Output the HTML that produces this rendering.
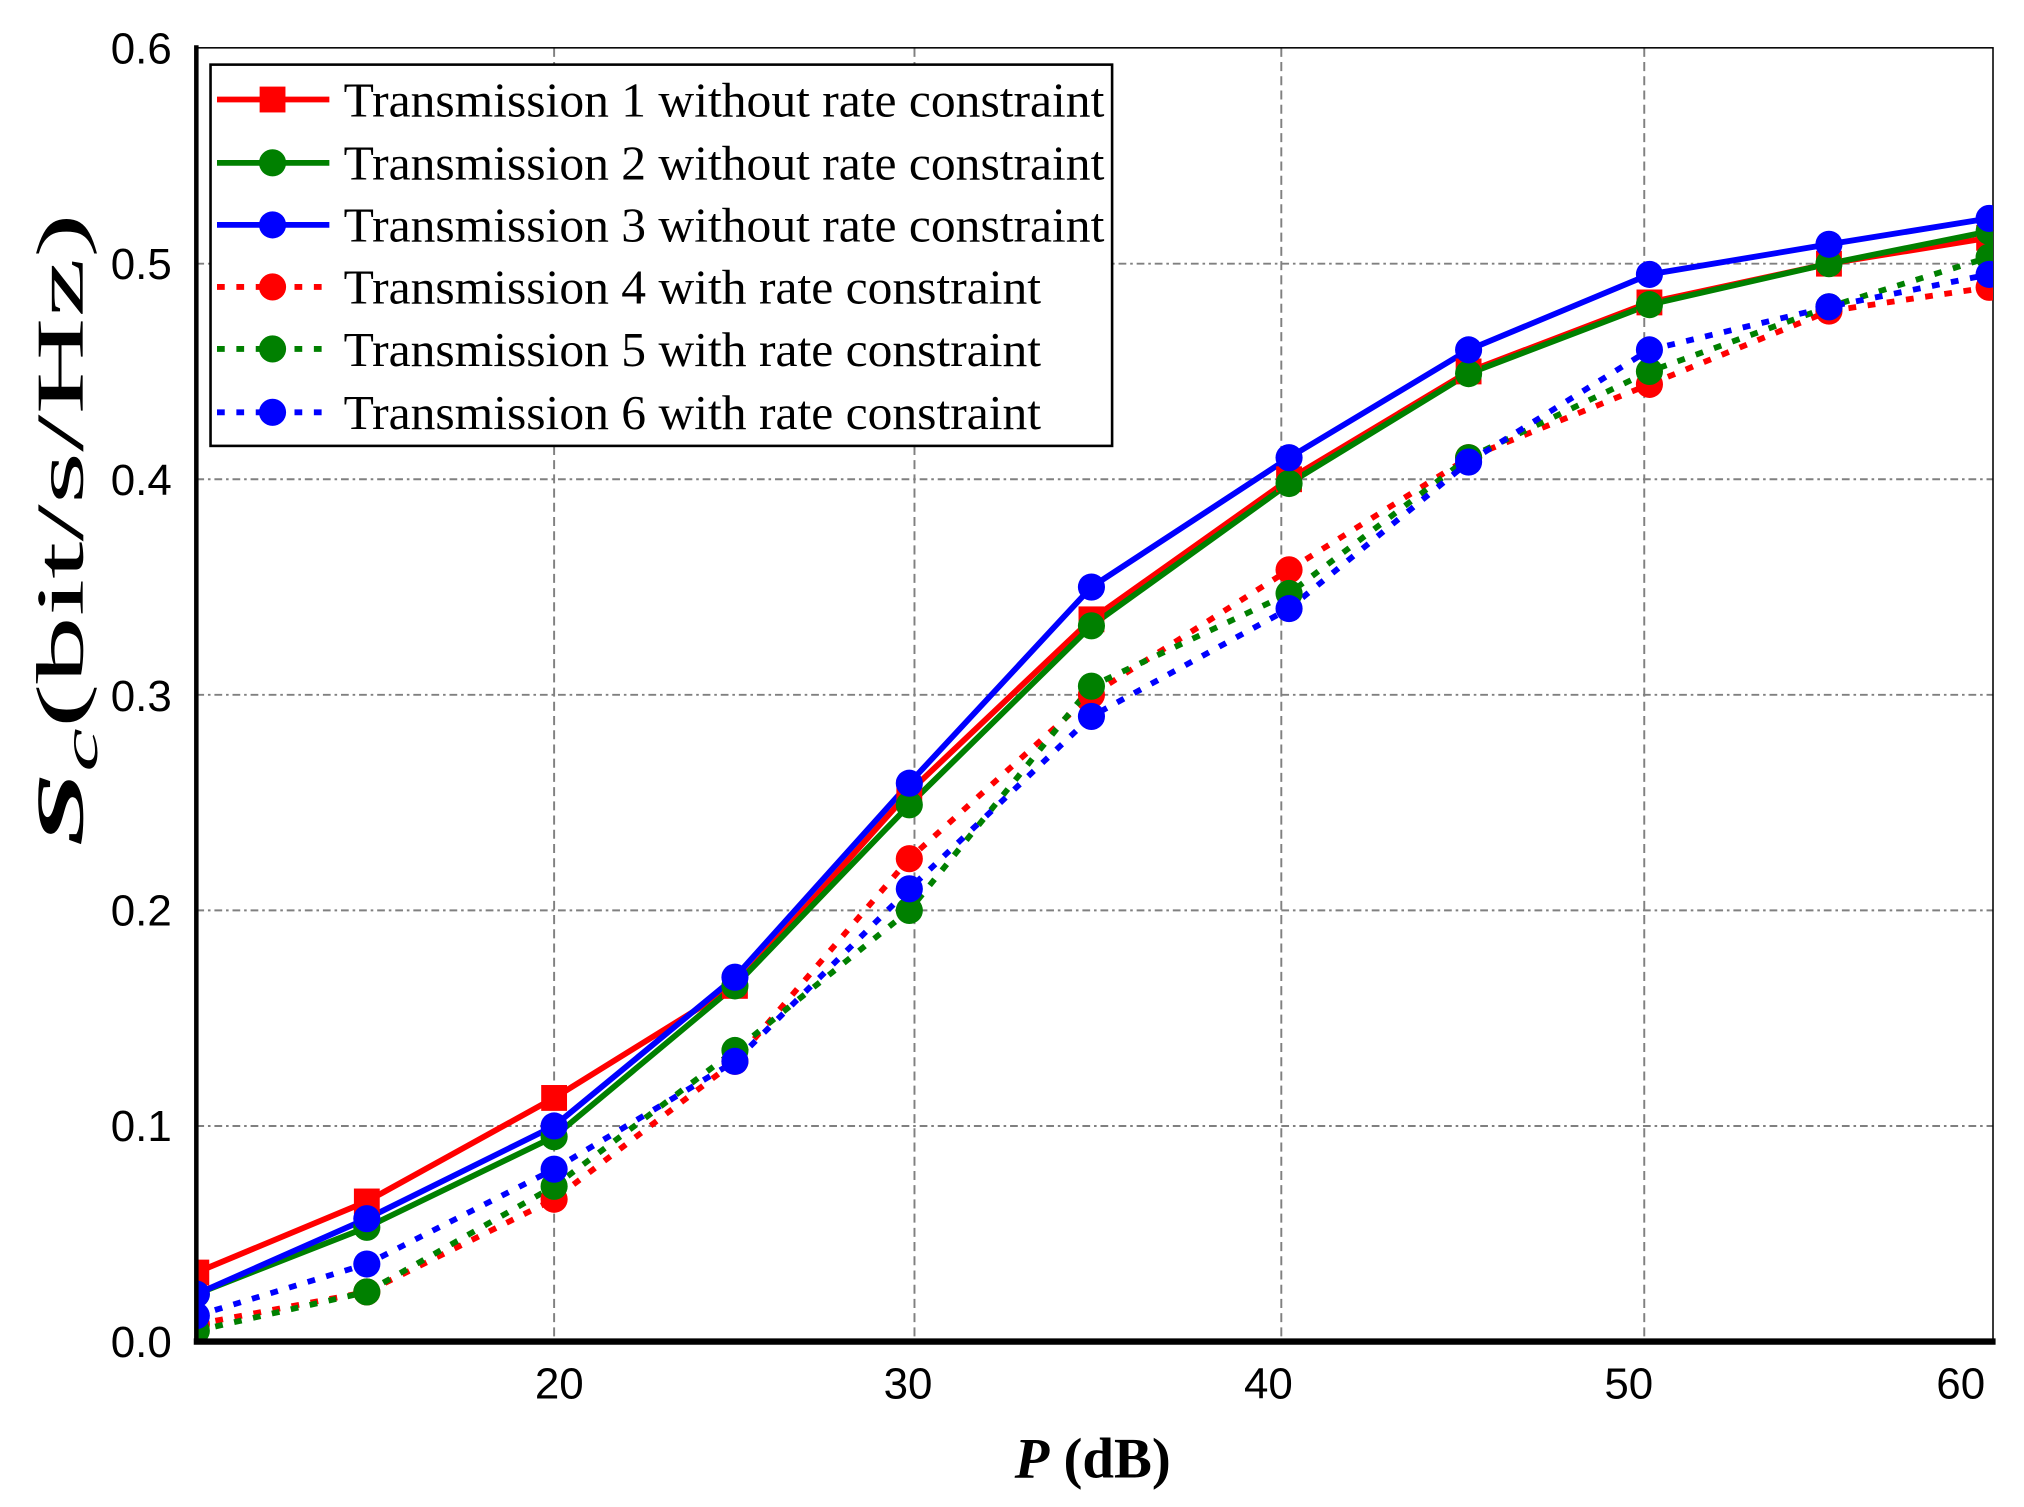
<!DOCTYPE html>
<html><head><meta charset="utf-8"><style>html,body{margin:0;padding:0;background:#fff}svg{display:block}</style></head>
<body>
<svg width="2024" height="1507" viewBox="0 0 1567 1166" preserveAspectRatio="none" xmlns="http://www.w3.org/2000/svg">
<defs><clipPath id="c"><rect x="152" y="37" width="1391" height="1001"/></clipPath></defs>
<rect width="1567" height="1166" fill="#fff"/>
<g stroke="#808080" stroke-width="1.5" stroke-dasharray="6,3,2,3" fill="none">
<line x1="152" y1="871.2" x2="1543" y2="871.2"/>
<line x1="152" y1="704.4" x2="1543" y2="704.4"/>
<line x1="152" y1="537.6" x2="1543" y2="537.6"/>
<line x1="152" y1="370.8" x2="1543" y2="370.8"/>
<line x1="152" y1="204" x2="1543" y2="204"/>
</g>
<g stroke="#808080" stroke-width="1.5" stroke-dasharray="7,4" fill="none">
<line x1="429" y1="37" x2="429" y2="1038"/>
<line x1="708" y1="37" x2="708" y2="1038"/>
<line x1="992" y1="37" x2="992" y2="1038"/>
<line x1="1273" y1="37" x2="1273" y2="1038"/>
</g>
<rect x="152" y="37" width="1391" height="1001" fill="none" stroke="#000" stroke-width="1.2"/>
<g clip-path="url(#c)" fill="none" stroke-width="4.5">
<polyline stroke="#ff0000" points="152,984.6 284,929.6 429,849.5 569,762.8 704,612.7 845,479.2 998,370.8 1137,287.4 1277,234 1416,204 1540,184"/>
<polyline stroke="#008000" points="152,1001.3 284,949.6 429,879.5 569,762.8 704,622.7 845,484.2 998,374.1 1137,289.1 1277,235.7 1416,204 1540,179"/>
<polyline stroke="#0000ff" points="152,1001.3 284,942.9 429,871.2 569,756.1 704,606 845,454.2 998,354.1 1137,270.7 1277,212.3 1416,189 1540,169"/>
<polyline stroke="#ff0000" stroke-dasharray="6,9" points="152,1024.7 284,999.6 429,927.9 569,821.2 704,664.4 845,537.6 998,440.9 1137,354.1 1277,297.4 1416,240.7 1540,222.3"/>
<polyline stroke="#008000" stroke-dasharray="6,9" points="152,1029.7 284,999.6 429,917.9 569,812.8 704,704.4 845,530.9 998,459.2 1137,354.1 1277,287.4 1416,237.4 1540,199"/>
<polyline stroke="#0000ff" stroke-dasharray="6,9" points="152,1018 284,978 429,904.6 569,821.2 704,687.7 845,554.3 998,470.9 1137,357.5 1277,270.7 1416,237.4 1540,212.3"/>
<g fill="#ff0000" stroke="none">
<rect x="142" y="974.6" width="20" height="20"/><rect x="274" y="919.6" width="20" height="20"/><rect x="419" y="839.5" width="20" height="20"/><rect x="559" y="752.8" width="20" height="20"/><rect x="694" y="602.7" width="20" height="20"/><rect x="835" y="469.2" width="20" height="20"/><rect x="988" y="360.8" width="20" height="20"/><rect x="1127" y="277.4" width="20" height="20"/><rect x="1267" y="224" width="20" height="20"/><rect x="1406" y="194" width="20" height="20"/><rect x="1530" y="174" width="20" height="20"/>
</g>
<g fill="#008000" stroke="none">
<circle cx="152" cy="1001.3" r="10.5"/><circle cx="284" cy="949.6" r="10.5"/><circle cx="429" cy="879.5" r="10.5"/><circle cx="569" cy="762.8" r="10.5"/><circle cx="704" cy="622.7" r="10.5"/><circle cx="845" cy="484.2" r="10.5"/><circle cx="998" cy="374.1" r="10.5"/><circle cx="1137" cy="289.1" r="10.5"/><circle cx="1277" cy="235.7" r="10.5"/><circle cx="1416" cy="204" r="10.5"/><circle cx="1540" cy="179" r="10.5"/>
</g>
<g fill="#0000ff" stroke="none">
<circle cx="152" cy="1001.3" r="10.5"/><circle cx="284" cy="942.9" r="10.5"/><circle cx="429" cy="871.2" r="10.5"/><circle cx="569" cy="756.1" r="10.5"/><circle cx="704" cy="606" r="10.5"/><circle cx="845" cy="454.2" r="10.5"/><circle cx="998" cy="354.1" r="10.5"/><circle cx="1137" cy="270.7" r="10.5"/><circle cx="1277" cy="212.3" r="10.5"/><circle cx="1416" cy="189" r="10.5"/><circle cx="1540" cy="169" r="10.5"/>
</g>
<g fill="#ff0000" stroke="none">
<circle cx="152" cy="1024.7" r="10.5"/><circle cx="284" cy="999.6" r="10.5"/><circle cx="429" cy="927.9" r="10.5"/><circle cx="569" cy="821.2" r="10.5"/><circle cx="704" cy="664.4" r="10.5"/><circle cx="845" cy="537.6" r="10.5"/><circle cx="998" cy="440.9" r="10.5"/><circle cx="1137" cy="354.1" r="10.5"/><circle cx="1277" cy="297.4" r="10.5"/><circle cx="1416" cy="240.7" r="10.5"/><circle cx="1540" cy="222.3" r="10.5"/>
</g>
<g fill="#008000" stroke="none">
<circle cx="152" cy="1029.7" r="10.5"/><circle cx="284" cy="999.6" r="10.5"/><circle cx="429" cy="917.9" r="10.5"/><circle cx="569" cy="812.8" r="10.5"/><circle cx="704" cy="704.4" r="10.5"/><circle cx="845" cy="530.9" r="10.5"/><circle cx="998" cy="459.2" r="10.5"/><circle cx="1137" cy="354.1" r="10.5"/><circle cx="1277" cy="287.4" r="10.5"/><circle cx="1416" cy="237.4" r="10.5"/><circle cx="1540" cy="199" r="10.5"/>
</g>
<g fill="#0000ff" stroke="none">
<circle cx="152" cy="1018" r="10.5"/><circle cx="284" cy="978" r="10.5"/><circle cx="429" cy="904.6" r="10.5"/><circle cx="569" cy="821.2" r="10.5"/><circle cx="704" cy="687.7" r="10.5"/><circle cx="845" cy="554.3" r="10.5"/><circle cx="998" cy="470.9" r="10.5"/><circle cx="1137" cy="357.5" r="10.5"/><circle cx="1277" cy="270.7" r="10.5"/><circle cx="1416" cy="237.4" r="10.5"/><circle cx="1540" cy="212.3" r="10.5"/>
</g>
</g>
<line x1="152" y1="35" x2="152" y2="1040" stroke="#000" stroke-width="3.5"/>
<line x1="150" y1="1038" x2="1545" y2="1038" stroke="#000" stroke-width="5"/>
<rect x="163" y="50" width="698" height="295" fill="#fff" stroke="#000" stroke-width="2"/>
<g stroke-width="4.5" fill="none">
<line x1="168" y1="77" x2="255" y2="77" stroke="#ff0000"/>
<line x1="168" y1="126" x2="255" y2="126" stroke="#008000"/>
<line x1="168" y1="174" x2="255" y2="174" stroke="#0000ff"/>
<line x1="168" y1="222" x2="255" y2="222" stroke="#ff0000" stroke-dasharray="6,9"/>
<line x1="168" y1="270" x2="255" y2="270" stroke="#008000" stroke-dasharray="6,9"/>
<line x1="168" y1="319" x2="255" y2="319" stroke="#0000ff" stroke-dasharray="6,9"/>
</g>
<rect x="201" y="67" width="20" height="20" fill="#ff0000"/>
<circle cx="211" cy="126" r="10.5" fill="#008000"/>
<circle cx="211" cy="174" r="10.5" fill="#0000ff"/>
<circle cx="211" cy="222" r="10.5" fill="#ff0000"/>
<circle cx="211" cy="270" r="10.5" fill="#008000"/>
<circle cx="211" cy="319" r="10.5" fill="#0000ff"/>
<g font-family="Liberation Serif, serif" font-size="38" fill="#000">
<text x="266" y="90" textLength="589" lengthAdjust="spacingAndGlyphs">Transmission 1 without rate constraint</text>
<text x="266" y="139" textLength="589" lengthAdjust="spacingAndGlyphs">Transmission 2 without rate constraint</text>
<text x="266" y="187" textLength="589" lengthAdjust="spacingAndGlyphs">Transmission 3 without rate constraint</text>
<text x="266" y="235" textLength="540" lengthAdjust="spacingAndGlyphs">Transmission 4 with rate constraint</text>
<text x="266" y="283" textLength="540" lengthAdjust="spacingAndGlyphs">Transmission 5 with rate constraint</text>
<text x="266" y="332" textLength="540" lengthAdjust="spacingAndGlyphs">Transmission 6 with rate constraint</text>
</g>
<g font-family="Liberation Sans, sans-serif" font-size="34" fill="#000" text-anchor="end">
<text x="133" y="49">0.6</text>
<text x="133" y="216">0.5</text>
<text x="133" y="383">0.4</text>
<text x="133" y="550">0.3</text>
<text x="133" y="716">0.2</text>
<text x="133" y="883">0.1</text>
<text x="133" y="1050">0.0</text>
</g>
<g font-family="Liberation Sans, sans-serif" font-size="34" fill="#000" text-anchor="middle">
<text x="433" y="1082">20</text>
<text x="703" y="1082">30</text>
<text x="982" y="1082">40</text>
<text x="1261" y="1082">50</text>
<text x="1518" y="1082">60</text>
</g>
<text x="846" y="1143" text-anchor="middle" font-family="Liberation Serif, serif" font-size="44" font-weight="bold"><tspan font-style="italic">P</tspan> (dB)</text>
<g transform="translate(64,655) rotate(-90) scale(2.0,1)">
<text x="0" y="0" font-family="Liberation Serif, serif" font-size="52"><tspan font-style="italic" font-weight="bold">S</tspan><tspan font-style="italic" font-size="38" dy="11">c</tspan><tspan dy="-11">(bit/s/Hz)</tspan></text>
</g>
</svg>
</body></html>
